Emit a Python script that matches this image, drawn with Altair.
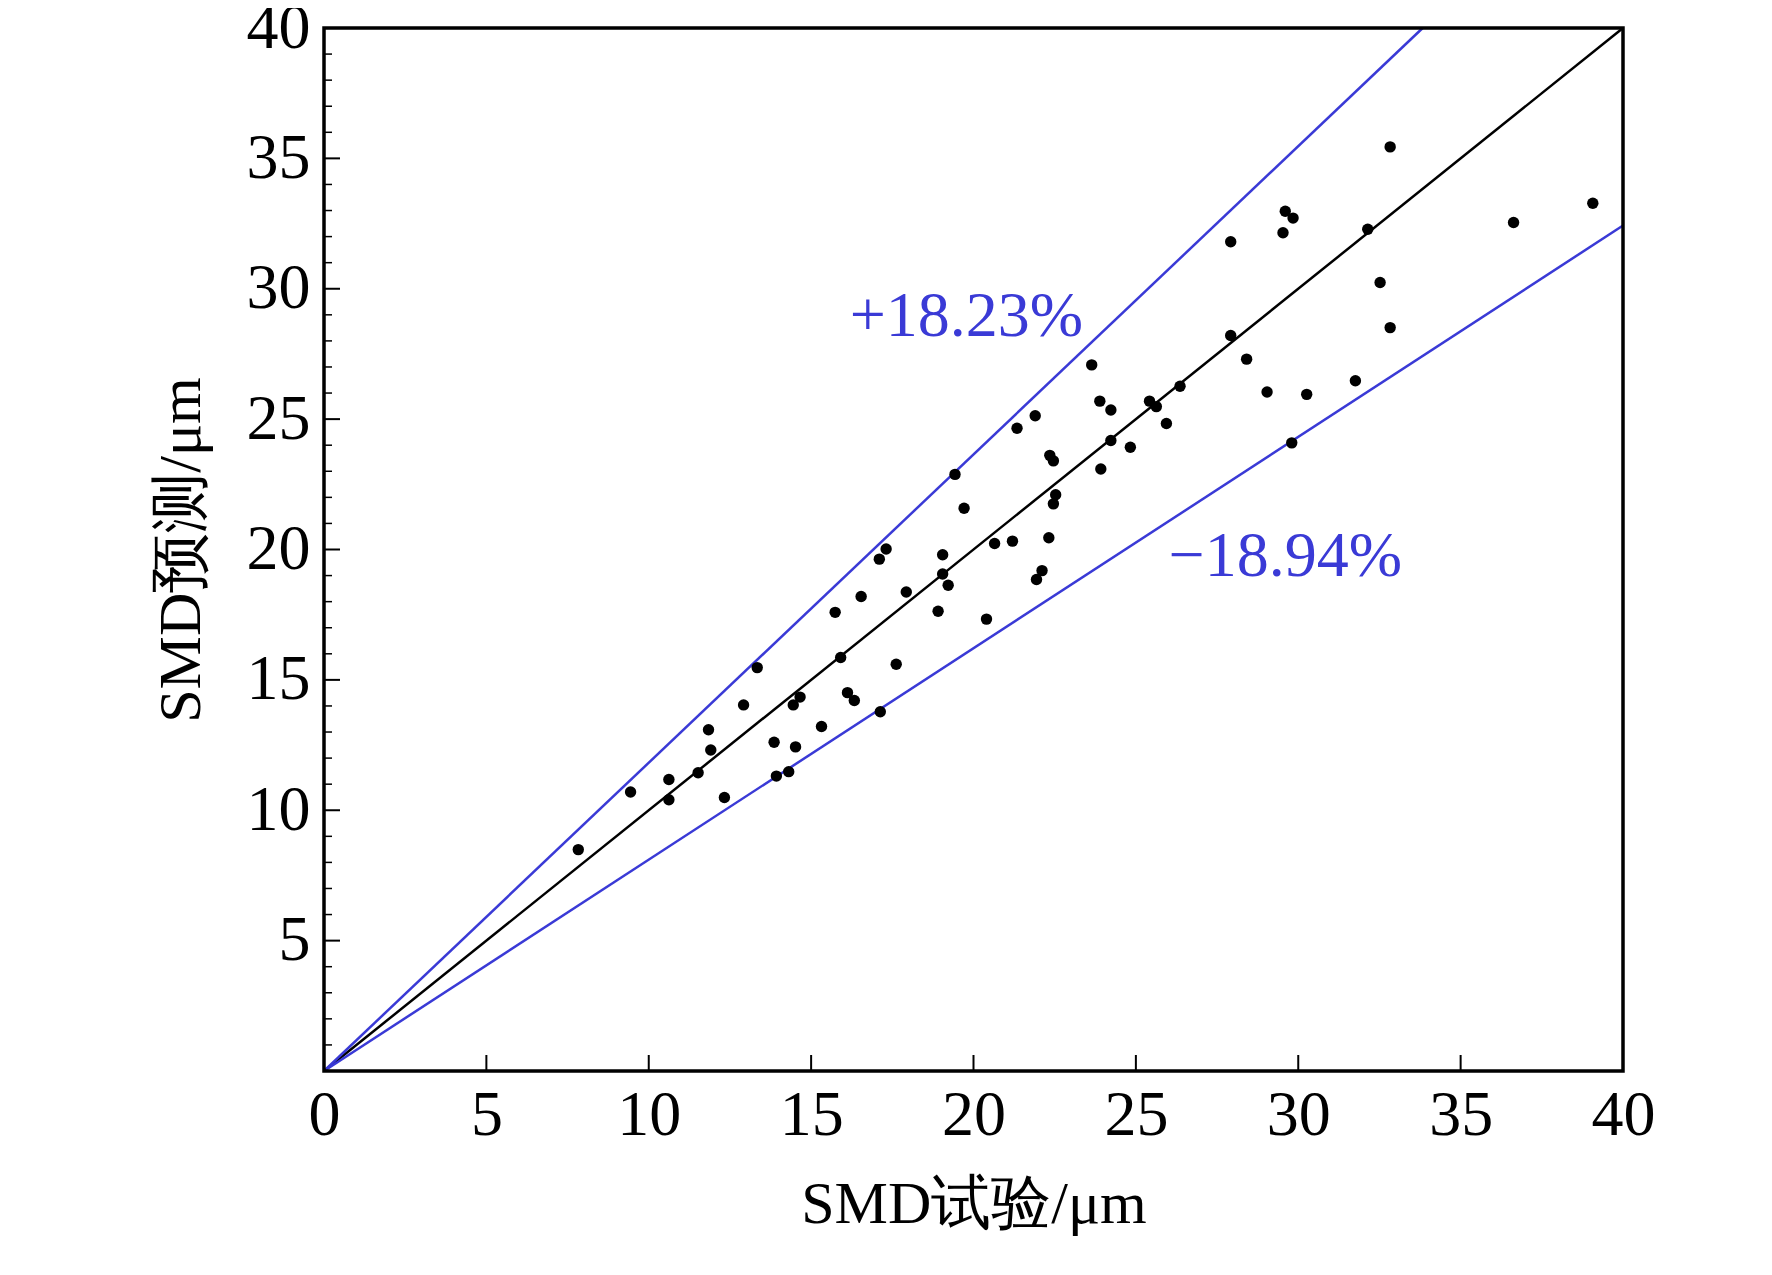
import pandas as pd
import altair as alt

smd_exp = [7.83, 9.44, 10.62, 10.62, 11.52, 11.84, 11.91, 12.33, 12.92, 13.34,
           13.86, 13.93, 14.31, 14.45, 14.66, 14.52, 15.32, 15.74, 15.91, 16.12,
           16.33, 16.54, 17.13, 17.10, 17.31, 17.62, 17.93, 18.91, 19.05, 19.05,
           19.22, 19.43, 19.71, 20.40, 20.65, 21.20, 21.34, 21.90, 21.94, 22.11,
           22.32, 22.35, 22.46, 22.53, 22.46, 23.64, 23.89, 23.92, 24.23, 24.23,
           24.83, 25.42, 25.63, 25.94, 26.36, 27.92, 27.92, 28.41, 29.04, 29.53,
           29.60, 29.84, 29.80, 30.26, 31.76, 32.14, 32.52, 32.83, 32.83, 36.63,
           39.07]
smd_pred = [8.49, 10.70, 11.18, 10.40, 11.44, 13.09, 12.31, 10.49, 14.04, 15.47,
            12.61, 11.31, 11.48, 14.04, 14.34, 12.43, 13.21, 17.59, 15.86, 14.51,
            14.21, 18.20, 13.78, 19.63, 20.02, 15.60, 18.37, 17.63, 19.80, 19.06,
            18.63, 22.88, 21.58, 17.33, 20.23, 20.32, 24.65, 25.13, 18.85, 19.19,
            20.45, 23.61, 23.40, 22.10, 21.75, 27.08, 25.69, 23.09, 25.35, 24.18,
            23.92, 25.69, 25.48, 24.83, 26.26, 31.80, 28.21, 27.30, 26.04, 32.15,
            32.97, 32.71, 24.09, 25.95, 26.47, 32.28, 30.24, 35.44, 28.51, 32.54,
            33.28]

upper_pct = 18.23
lower_pct = 18.94
x_ticks = [0, 5, 10, 15, 20, 25, 30, 35, 40]
y_minor = list(range(0, 41))

W, H = 1299, 1043
FONT = "Liberation Serif"
BLUE = "#3a3ad6"

xs = alt.Scale(domain=[0, 40], nice=False)
ys = alt.Scale(domain=[0, 40], nice=False)

pts = pd.DataFrame({"x": smd_exp, "y": smd_pred})
k_up = 1 + upper_pct / 100
k_lo = 1 - lower_pct / 100
lines = pd.DataFrame({
    "x": [0, 40, 0, 40 / k_up, 0, 40],
    "y": [0, 40, 0, 40, 0, 40 * k_lo],
    "g": ["a", "a", "b", "b", "c", "c"],
})
labels = pd.DataFrame({"x": [19.78, 29.6], "y": [28.9, 19.7],
                       "t": [f"+{upper_pct}%", f"\u2212{lower_pct}%"]})

axis_style = dict(ticks=False, grid=False, domain=False, labelFlush=False,
                  labelFont=FONT, labelFontSize=64, labelColor="black",
                  titleFont=FONT, titleFontSize=60, titleFontWeight="normal",
                  titleColor="black")

base = alt.Chart(pts).mark_circle(size=130, color="black", opacity=1).encode(
    x=alt.X("x:Q", scale=xs, title="SMD试验/μm",
            axis=alt.Axis(values=x_ticks, labelPadding=12, titlePadding=28, **axis_style)),
    y=alt.Y("y:Q", scale=ys, title="SMD预测/μm",
            axis=alt.Axis(values=x_ticks, labelPadding=14, titlePadding=34,
                          labelExpr="datum.value == 0 ? '' : datum.label", **axis_style)),
)

line_layer = alt.Chart(lines).mark_line(strokeWidth=2.5).encode(
    x=alt.X("x:Q", scale=xs), y=alt.Y("y:Q", scale=ys), detail="g:N",
    color=alt.Color("g:N", scale=alt.Scale(domain=["a", "b", "c"],
                                           range=["black", BLUE, BLUE]), legend=None),
)

text_layer = alt.Chart(labels).mark_text(font=FONT, fontSize=64, color=BLUE).encode(
    x=alt.X("x:Q", scale=xs), y=alt.Y("y:Q", scale=ys), text="t:N")

xt = pd.DataFrame({"v": x_ticks})
x_tick_layer = alt.Chart(xt).mark_rule(color="black", strokeWidth=2).encode(
    x=alt.X("v:Q", scale=xs), y=alt.value(H), y2=alt.value(H - 16))
yt = pd.DataFrame({"v": y_minor})
yt["major"] = [v % 5 == 0 for v in y_minor]
y_tick_major = alt.Chart(yt[yt["major"]]).mark_rule(color="black", strokeWidth=2).encode(
    y=alt.Y("v:Q", scale=ys), x=alt.value(0), x2=alt.value(16))
y_tick_minor = alt.Chart(yt[~yt["major"]]).mark_rule(color="black", strokeWidth=1.5).encode(
    y=alt.Y("v:Q", scale=ys), x=alt.value(0), x2=alt.value(8))

frame = alt.Chart(pd.DataFrame({"a": [0]})).mark_rect(
    filled=False, stroke="black", strokeWidth=3.5).encode(
    x=alt.value(0), x2=alt.value(W), y=alt.value(0), y2=alt.value(H))

chart = alt.layer(line_layer, base, text_layer, x_tick_layer, y_tick_major,
                  y_tick_minor, frame).properties(
    width=W, height=H,
    autosize=alt.AutoSizeParams(type="none"),
    padding={"left": 316, "top": 20, "right": 140, "bottom": 200}
).configure_view(stroke=None).configure(background="white")

chart.save("out.html", embed_options={"renderer": "svg", "actions": False})
